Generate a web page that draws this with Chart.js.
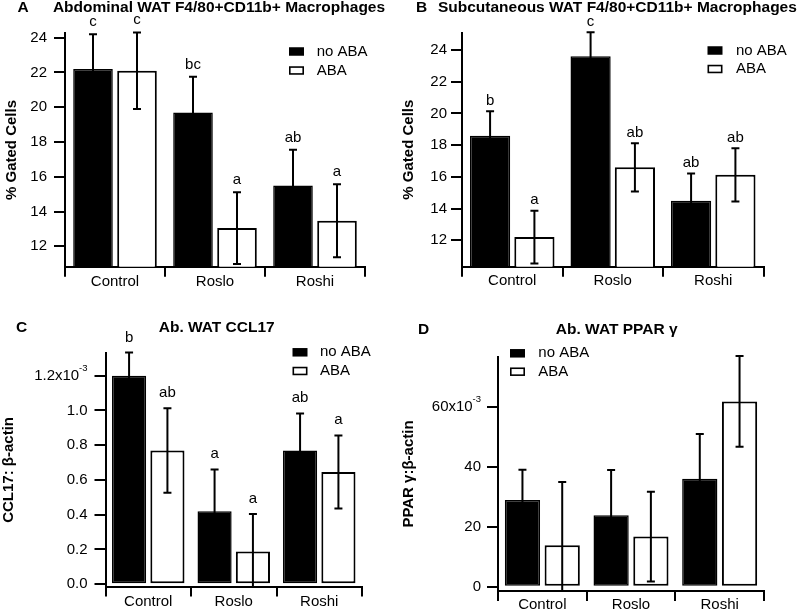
<!DOCTYPE html>
<html><head><meta charset="utf-8">
<script src="https://cdn.jsdelivr.net/npm/chart.js@4.4.1/dist/chart.umd.min.js"></script>
<style>
html,body{margin:0;padding:0;background:#fff;}
#wrap{position:relative;width:800px;height:610px;overflow:hidden;background:#fff;}
canvas{position:absolute;left:0;top:0;}
</style></head><body>
<div id="wrap">
<canvas id="cA" width="800" height="650"></canvas>
<canvas id="cB" width="800" height="650"></canvas>
<canvas id="cC" width="800" height="650"></canvas>
<canvas id="cD" width="800" height="650"></canvas>
</div>
<script>
const FONT = "'Liberation Sans', Arial, Helvetica, sans-serif";
Chart.defaults.font.family = FONT;
Chart.defaults.font.size = 15;
Chart.defaults.color = '#000';
const CANVAS_H = 650;

// ---------- data ----------
const categories = ['Control', 'Roslo', 'Roshi'];
const seriesNames = ['no ABA', 'ABA'];
const expSuffix = '-3';

// Panel A
const aTitle = 'Abdominal WAT F4/80+CD11b+ Macrophages';
const aYLabel = '% Gated Cells';
const aNoAba = [22.2, 19.7, 15.5];
const aNoAbaErr = [2.0, 2.05, 2.05];
const aAba = [22.1, 13.05, 13.47];
const aAbaErr = [2.2, 2.06, 2.1];
const aNoAbaLetters = ['c', 'bc', 'ab'];
const aAbaLetters = ['c', 'a', 'a'];
const aTicks = [12, 14, 16, 18, 20, 22, 24];
const aTickLabels = ['12', '14', '16', '18', '20', '22', '24'];

// Panel B
const bTitle = 'Subcutaneous WAT F4/80+CD11b+ Macrophages';
const bYLabel = '% Gated Cells';
const bNoAba = [18.6, 23.6, 14.5];
const bNoAbaErr = [1.54, 1.52, 1.71];
const bAba = [12.2, 16.6, 16.13];
const bAbaErr = [1.66, 1.52, 1.68];
const bNoAbaLetters = ['b', 'c', 'ab'];
const bAbaLetters = ['a', 'ab', 'ab'];
const bTicks = [12, 14, 16, 18, 20, 22, 24];
const bTickLabels = ['12', '14', '16', '18', '20', '22', '24'];

// Panel C
const cTitle = 'Ab. WAT CCL17';
const cYLabel = 'CCL17: β-actin';
const cNoAba = [1.2, 0.42, 0.77];
const cNoAbaErr = [0.133, 0.241, 0.213];
const cAba = [0.77, 0.188, 0.646];
const cAbaErr = [0.243, 0.216, 0.21];
const cNoAbaLetters = ['b', 'a', 'ab'];
const cAbaLetters = ['ab', 'a', 'a'];
const cTicks = [0, 0.2, 0.4, 0.6, 0.8, 1.0, 1.2];
const cTickLabels = ['0.0', '0.2', '0.4', '0.6', '0.8', '1.0', '1.2x10'];

// Panel D
const dTitle = 'Ab. WAT PPAR γ';
const dYLabel = 'PPAR γ:β-actin';
const dNoAba = [28.9, 23.8, 36.0];
const dNoAbaErr = [10.1, 15.1, 14.9];
const dAba = [13.8, 16.7, 61.8];
const dAbaErr = [21.1, 15.0, 15.1];
const dNoAbaLetters = ['', '', ''];
const dAbaLetters = ['', '', ''];
const dTicks = [0, 20, 40, 60];
const dTickLabels = ['0', '20', '40', '60x10'];

// ---------- chart builder ----------
function makeChart(id, d, g) {
  const yW = g.area.left - g.panelLeft;
  const xH = 30;
  const overlay = {
    id: 'overlay' + id,
    afterDatasetsDraw(chart) {
      const ctx = chart.ctx, ys = chart.scales.y, ca = chart.chartArea;
      ctx.save();
      ctx.beginPath(); ctx.rect(0, 0, chart.width, ca.bottom); ctx.clip();
      ctx.strokeStyle = '#000'; ctx.lineWidth = 2;
      chart.data.datasets.forEach((ds, di) => {
        const meta = chart.getDatasetMeta(di);
        meta.data.forEach((el, i) => {
          const v = ds.data[i], e = ds.errors[i];
          const yt = ys.getPixelForValue(v + e), yb = ys.getPixelForValue(v - e);
          ctx.beginPath();
          ctx.moveTo(el.x, yb); ctx.lineTo(el.x, yt);
          ctx.moveTo(el.x - 4, yt); ctx.lineTo(el.x + 4, yt);
          ctx.moveTo(el.x - 4, yb); ctx.lineTo(el.x + 4, yb);
          ctx.stroke();
        });
      });
      ctx.restore();
      ctx.save();
      ctx.fillStyle = '#000';
      ctx.font = '15px ' + FONT;
      ctx.textAlign = 'center'; ctx.textBaseline = 'alphabetic';
      chart.data.datasets.forEach((ds, di) => {
        const meta = chart.getDatasetMeta(di);
        meta.data.forEach((el, i) => {
          const t = ds.letters[i];
          if (!t) return;
          const yt = ys.getPixelForValue(ds.data[i] + ds.errors[i]);
          ctx.fillText(t, el.x, yt - g.letterGap);
        });
      });
      ctx.restore();
    },
    afterDraw(chart) {
      const ctx = chart.ctx, ys = chart.scales.y;
      ctx.save();
      ctx.fillStyle = '#000';
      ctx.font = 'bold 15.5px ' + FONT;
      ctx.textBaseline = 'middle';
      ctx.textAlign = 'left';
      ctx.fillText(g.letter, g.letterX, g.titleY);
      ctx.textAlign = 'center';
      ctx.fillText(d.title, g.titleX, g.titleY);
      ctx.font = '15px ' + FONT;
      ctx.textAlign = 'left';
      seriesNames.forEach((name, i) => {
        const ry = g.legend.rows[i];
        const bx = g.legend.x, bw = 15, bh = 8.5;
        if (i === 0) {
          ctx.fillStyle = '#000';
          ctx.fillRect(bx, ry - bh / 2, bw, bh);
        } else {
          ctx.fillStyle = '#fff';
          ctx.fillRect(bx, ry - bh / 2, bw, bh);
          ctx.strokeStyle = '#000'; ctx.lineWidth = 1.6;
          ctx.strokeRect(bx + 0.8, ry - bh / 2 + 0.8, bw - 1.6, bh - 1.6);
        }
        ctx.fillStyle = '#000';
        ctx.fillText(name, g.legend.textX, ry);
      });
      ctx.font = '9.5px ' + FONT;
      ctx.textAlign = 'right';
      ctx.textBaseline = 'alphabetic';
      d.ticks.forEach((v, i) => {
        if (d.tickLabels[i].endsWith('x10')) {
          const x = ys.right - 11 - g.tickPad;
          const y = ys.getPixelForValue(v) - 5;
          ctx.fillText(expSuffix, x, y);
        }
      });
      ctx.restore();
    }
  };

  return new Chart(document.getElementById(id), {
    type: 'bar',
    data: {
      labels: categories,
      datasets: [
        { label: seriesNames[0], data: d.noAba, errors: d.noAbaErr, letters: d.noAbaLetters,
          backgroundColor: '#000', borderColor: '#000', borderWidth: 1.5, borderSkipped: false,
          categoryPercentage: g.catPct, barPercentage: g.barPct },
        { label: seriesNames[1], data: d.aba, errors: d.abaErr, letters: d.abaLetters,
          backgroundColor: '#fff', borderColor: '#000', borderWidth: 2, borderSkipped: false,
          categoryPercentage: g.catPct, barPercentage: g.barPct }
      ]
    },
    options: {
      responsive: false, animation: false, devicePixelRatio: 1,
      layout: { padding: { left: g.panelLeft, top: g.area.top, right: 800 - g.area.right, bottom: CANVAS_H - g.area.bottom - xH } },
      plugins: { legend: { display: false }, tooltip: { enabled: false }, title: { display: false } },
      scales: {
        x: {
          type: 'category', offset: true,
          grid: { offset: true, drawOnChartArea: false, drawTicks: true, tickLength: 10, lineWidth: 2, color: '#000' },
          border: { display: true, color: '#000', width: 2 },
          ticks: { padding: g.xPad, font: { size: 15 }, color: '#000', maxRotation: 0, minRotation: 0, autoSkip: false },
          afterFit(s) { s.height = xH; }
        },
        y: {
          min: g.yMin, max: g.yMax,
          grid: { drawOnChartArea: false, drawTicks: true, tickLength: 11, lineWidth: 2, color: '#000' },
          border: { display: true, color: '#000', width: 2 },
          ticks: {
            padding: g.tickPad, autoSkip: false, font: { size: 15 }, color: '#000',
            callback: (value, index) => {
              const l = d.tickLabels[index];
              return l.endsWith('x10') ? l + '  ' : l;
            }
          },
          afterBuildTicks(s) { s.ticks = d.ticks.map(v => ({ value: v })); },
          afterFit(s) { s.width = yW; },
          title: { display: true, text: d.yLabel, color: '#000', font: { size: 15, weight: 'bold' }, padding: { top: g.yTitlePad, bottom: 0 } }
        }
      }
    },
    plugins: [overlay]
  });
}

makeChart('cA',
  { title: aTitle, yLabel: aYLabel, noAba: aNoAba, noAbaErr: aNoAbaErr, aba: aAba, abaErr: aAbaErr,
    noAbaLetters: aNoAbaLetters, abaLetters: aAbaLetters, ticks: aTicks, tickLabels: aTickLabels },
  { panelLeft: 0, area: { left: 65, right: 365, top: 33.3, bottom: 266.7 }, yMin: 10.83, yMax: 24.25,
    letter: 'A', letterX: 17.5, titleX: 219, titleY: 7.5, yTitlePad: 3, tickPad: 7, xPad: -4,
    legend: { x: 289, rows: [51.5, 70.5], textX: 316.7 }, letterGap: 8, catPct: 0.88, barPct: 0.9 });

makeChart('cB',
  { title: bTitle, yLabel: bYLabel, noAba: bNoAba, noAbaErr: bNoAbaErr, aba: bAba, abaErr: bAbaErr,
    noAbaLetters: bNoAbaLetters, abaLetters: bAbaLetters, ticks: bTicks, tickLabels: bTickLabels },
  { panelLeft: 400, area: { left: 462, right: 763.5, top: 32.7, bottom: 266.7 }, yMin: 10.335, yMax: 25.09,
    letter: 'B', letterX: 416, titleX: 617.4, titleY: 7.8, yTitlePad: 0, tickPad: 4, xPad: -4.5,
    legend: { x: 707.5, rows: [50.5, 69], textX: 736 }, letterGap: 6.5, catPct: 0.882, barPct: 0.907 });

makeChart('cC',
  { title: cTitle, yLabel: cYLabel, noAba: cNoAba, noAbaErr: cNoAbaErr, aba: cAba, abaErr: cAbaErr,
    noAbaLetters: cNoAbaLetters, abaLetters: cAbaLetters, ticks: cTicks, tickLabels: cTickLabels },
  { panelLeft: 0, area: { left: 105.5, right: 362, top: 353.3, bottom: 586.5 }, yMin: -0.013, yMax: 1.329,
    letter: 'C', letterX: 16, titleX: 216.7, titleY: 327.8, yTitlePad: 0, tickPad: 7, xPad: -3.5,
    legend: { x: 292.5, rows: [352.3, 371], textX: 320 }, letterGap: 11, catPct: 0.897, barPct: 0.89 });

makeChart('cD',
  { title: dTitle, yLabel: dYLabel, noAba: dNoAba, noAbaErr: dNoAbaErr, aba: dAba, abaErr: dAbaErr,
    noAbaLetters: dNoAbaLetters, abaLetters: dAbaLetters, ticks: dTicks, tickLabels: dTickLabels },
  { panelLeft: 400, area: { left: 498, right: 764, top: 357, bottom: 591 }, yMin: -1.44, yMax: 76.6,
    letter: 'D', letterX: 418, titleX: 616.7, titleY: 329.5, yTitlePad: 0, tickPad: 6, xPad: -5,
    legend: { x: 510, rows: [353.3, 371.7], textX: 538.3 }, letterGap: 10, catPct: 0.897, barPct: 0.886 });
</script>
</body></html>
